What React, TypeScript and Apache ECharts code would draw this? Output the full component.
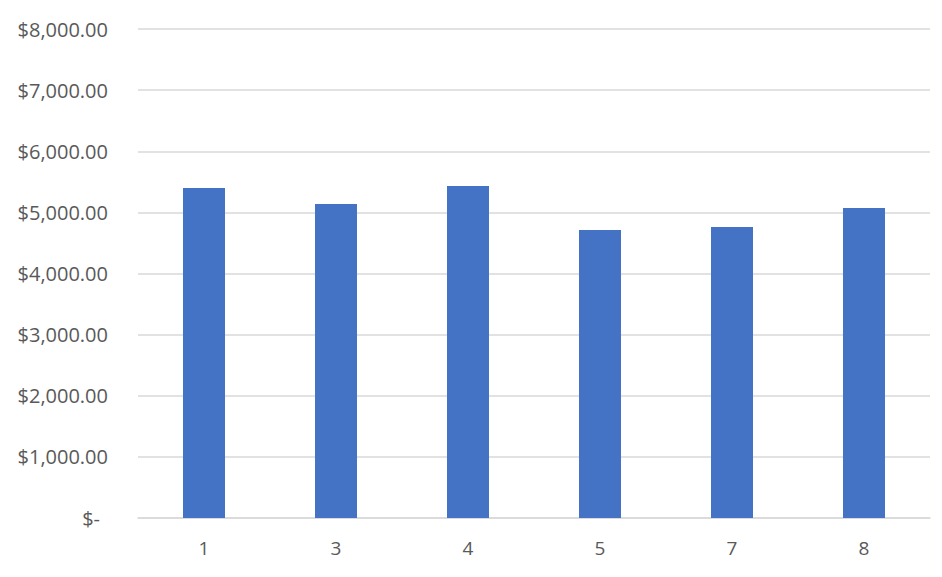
import React, { useEffect, useRef } from "react";
import * as echarts from "echarts";

const categories = ["1", "3", "4", "5", "7", "8"];
const values = [5400, 5137, 5431, 4712, 4761, 5072];
const yMin = 0;
const yMax = 8000;
const yInterval = 1000;

function fmt(v: number): string {
  if (v === 0) return "{z|$-}";
  return "$" + v.toLocaleString("en-US", { minimumFractionDigits: 2, maximumFractionDigits: 2 });
}

const FONT = "Open Sans";

export default function App() {
  const ref = useRef<HTMLDivElement>(null);
  useEffect(() => {
    if (!ref.current) return;
    const chart = echarts.init(ref.current, null, { renderer: "svg" });
    chart.setOption({
      animation: false,
      backgroundColor: "#ffffff",
      grid: { left: 138, right: 12, top: 29, bottom: 59, containLabel: false },
      xAxis: {
        type: "category",
        data: categories,
        axisLine: { show: true, lineStyle: { color: "#D9D9D9", width: 1.5 } },
        axisTick: { show: false },
        axisLabel: { color: "#595959", fontSize: 19, fontFamily: FONT, margin: 20 },
      },
      yAxis: {
        type: "value",
        min: yMin,
        max: yMax,
        interval: yInterval,
        axisLine: { show: false },
        axisTick: { show: false },
        splitLine: { lineStyle: { color: "#D9D9D9", width: 1.5 } },
        axisLabel: {
          color: "#595959",
          fontSize: 20,
          fontFamily: FONT,
          margin: 30,
          formatter: (v: number) => fmt(v),
          rich: { z: { color: "#595959", fontSize: 20, fontFamily: FONT, padding: [0, 8, 0, 0] } },
        },
      },
      series: [
        {
          type: "bar",
          data: values,
          barWidth: 42,
          itemStyle: { color: "#4472C4" },
        },
      ],
    });
    return () => chart.dispose();
  }, []);
  return <div ref={ref} style={{ width: 942, height: 577, marginLeft: -8, marginTop: -8 }} />;
}
